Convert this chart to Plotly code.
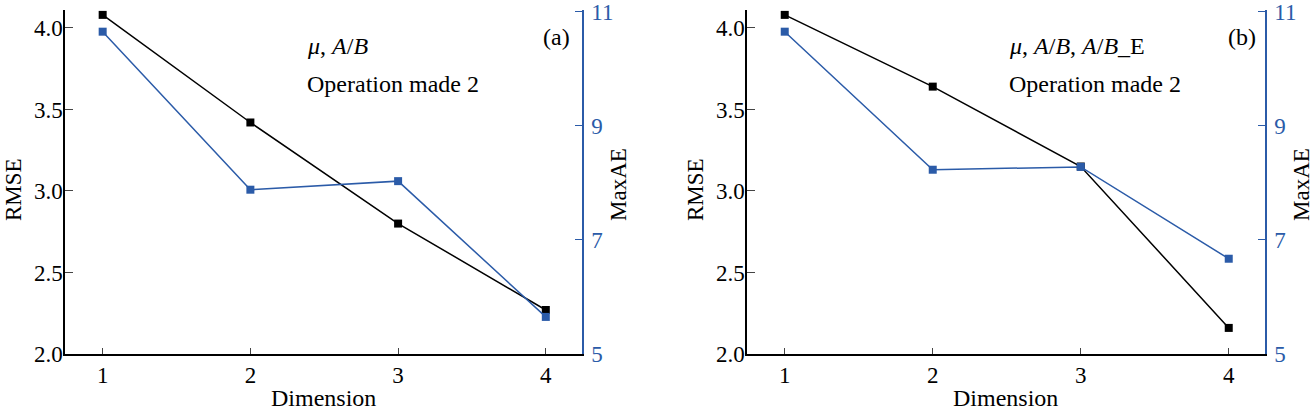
import plotly.graph_objects as go

# Values
dimension = [1, 2, 3, 4]
rmse_a = [4.08, 3.42, 2.80, 2.27]
maxae_a = [10.65, 7.88, 8.03, 5.65]
rmse_b = [4.08, 3.64, 3.15, 2.16]
maxae_b = [10.65, 8.23, 8.28, 6.67]

BLUE = "#2b5ba8"
FONT = "Liberation Serif"
FS = 23

W, H = 1313, 411
# panel pixel boxes (left, right), shared top / bottom
panels = [(65, 582), (747, 1265)]
top_px, bot_px = 10, 354
ydom = [1 - bot_px / H, 1 - top_px / H]

fig = go.Figure()
layout = dict(
    template="none",
    width=W, height=H,
    margin=dict(l=0, r=0, t=0, b=0, pad=0),
    paper_bgcolor="white", plot_bgcolor="white",
    showlegend=False,
    font=dict(family=FONT, size=FS, color="black"),
)

series = [(rmse_a, maxae_a), (rmse_b, maxae_b)]
for i, ((left, right), (rmse, maxae)) in enumerate(zip(panels, series)):
    xb, xt = 2 * i + 1, 2 * i + 2
    yl, yr = 2 * i + 1, 2 * i + 2
    xn = lambda k: "x" if k == 1 else f"x{k}"
    yn = lambda k: "y" if k == 1 else f"y{k}"
    xdom = [left / W, right / W]

    fig.add_trace(go.Scatter(x=dimension, y=rmse, mode="lines+markers",
                             line=dict(color="black", width=1.5),
                             marker=dict(symbol="square", size=8, color="black"),
                             xaxis=xn(xb), yaxis=yn(yl)))
    fig.add_trace(go.Scatter(x=dimension, y=maxae, mode="lines+markers",
                             line=dict(color=BLUE, width=1.5),
                             marker=dict(symbol="square", size=8, color=BLUE),
                             xaxis=xn(xb), yaxis=yn(yr)))

    common = dict(showgrid=False, zeroline=False, automargin=False, tickwidth=1.2,
                  linewidth=1.5, showline=True, ticks="inside")
    xk = "xaxis" if xb == 1 else f"xaxis{xb}"
    layout[xk] = dict(domain=xdom, anchor=yn(yl), range=[0.745, 4.245],
                      tickvals=dimension, ticklen=6, linecolor="black", **common)
    layout[f"xaxis{xt}"] = dict(domain=xdom, anchor=yn(yl), overlaying=xn(xb),
                                side="top", range=[0.745, 4.245], tick0=1, dtick=0.5,
                                ticklen=5, tickcolor=BLUE, showticklabels=False,
                                linecolor=BLUE, **common)
    yk = "yaxis" if yl == 1 else f"yaxis{yl}"
    layout[yk] = dict(domain=ydom, anchor=xn(xb), range=[2.0, 4.11],
                      tick0=2, dtick=0.5, tickformat=".1f", ticklen=8,
                      ticklabelstandoff=-4,
                      linecolor="black", ticklabeloverflow="allow", **common)
    layout[f"yaxis{yr}"] = dict(domain=ydom, anchor=xn(xb), overlaying=yn(yl),
                                side="right", range=[5, 11.03], tickvals=[5, 7, 9, 11],
                                ticklen=7, tickcolor=BLUE, tickfont=dict(color=BLUE),
                                ticklabelstandoff=3,
                                linecolor=BLUE, ticklabeloverflow="allow", **common)

fig.update_layout(**layout)


def note(text, px, py, xanchor="center", angle=0, size=FS):
    fig.add_annotation(text=text, x=px / W, y=1 - py / H, xref="paper", yref="paper",
                       xanchor=xanchor, yanchor="middle", textangle=angle,
                       font=dict(size=size), showarrow=False)


# axis titles and in-panel notes
notes = [
    ("<i>μ</i>, <i>A</i>/<i>B</i>", "(a)", 305, 556),
    ("<i>μ</i>, <i>A</i>/<i>B</i>, <i>A</i>/<i>B</i>_E", "(b)", 1007, 1242),
]
for (left, right), (combo, tag, tx, tagx) in zip(panels, notes):
    note("RMSE", left - 52, 190, angle=-90)
    note("MaxAE", right + 36, 185, angle=-90)
    note("Dimension", (left + right) / 2, 398, size=24)
    note(combo, tx, 46, xanchor="left", size=24)
    note("Operation made 2", tx, 84, xanchor="left", size=24)
    note(tag, tagx, 37, size=24)

fig.write_html(
    "out.html",
    config={"displayModeBar": False},
    post_script=(
        "document.documentElement.style.overflow='hidden';"
        "document.body.style.margin='0';document.body.style.overflow='hidden';"
    ),
)
